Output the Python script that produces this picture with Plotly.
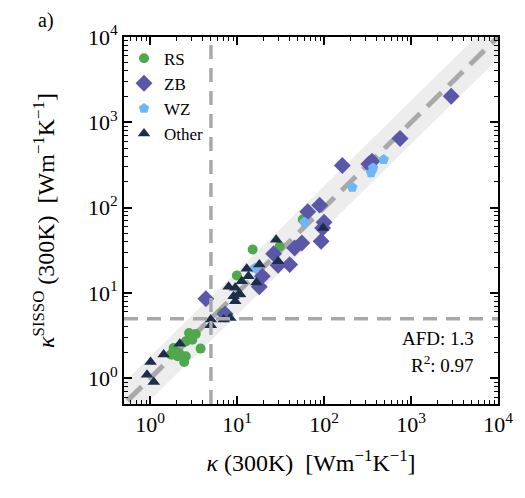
import plotly.graph_objects as go

# kappa(300K) reference vs. SISSO prediction, by structure type
rs_x = [2.80, 3.34, 3.05, 2.57, 3.80, 1.86, 2.15, 2.57, 2.46, 2.06, 1.73, 6.70, 56.9, 15.1, 30.9, 9.93]
rs_y = [3.40, 3.31, 2.84, 2.71, 2.23, 2.27, 1.98, 1.81, 1.55, 1.81, 1.90, 5.83, 72.6, 32.3, 35.3, 16.0]

zb_x = [2897, 748, 356, 327, 162, 88.9, 64.9, 100, 96.2, 92.5, 55.5, 45.8, 26.3, 29.6, 40.2, 19.5, 18.0, 4.37, 7.28]
zb_y = [2023, 646, 350, 325, 312, 107, 89.5, 67.4, 57.8, 40.4, 38.6, 33.7, 28.8, 21.1, 21.5, 15.7, 11.8, 8.55, 5.67]

wz_x = [484, 366, 347, 211, 59.5, 16.1]
wz_y = [366, 292, 257, 173, 67.4, 19.6]

other_x = [1.01, 0.92, 1.10, 1.43, 2.19, 4.98, 4.98, 7.0, 8.35, 9.10, 10.4, 9.51, 7.98, 11.3, 10.8,
           12.9, 13.5, 16.7, 18.0, 28.1, 29.6, 97.4, 9.51]
other_y = [1.55, 1.10, 0.905, 1.90, 2.55, 4.88, 4.18, 4.88, 5.09, 9.15, 9.58, 8.0, 11.8, 13.7, 9.66,
           19.2, 15.7, 13.3, 21.5, 42.0, 23.5, 57.8, 11.5]

threshold = 5
band_factor = 1.8
diag = [0.1, 1e5]
afd = 1.3
r2 = 0.97

font = "Liberation Serif"
grey = "#a9a9a9"

fig = go.Figure()

# shaded band around the identity line
fig.add_trace(go.Scatter(
    x=diag + diag[::-1],
    y=[v * band_factor for v in diag] + [v / band_factor for v in diag[::-1]],
    fill="toself", fillcolor="#ededed", line=dict(width=0),
    mode="lines", showlegend=False, hoverinfo="skip"))

fig.add_trace(go.Scatter(x=diag, y=diag, mode="lines", showlegend=False,
                         line=dict(color=grey, width=5, dash="20px,10px")))

fig.add_hline(y=threshold, line=dict(color=grey, width=3.5, dash="14px,9px"))
fig.add_vline(x=threshold, line=dict(color=grey, width=3.5, dash="14px,9px"))

fig.add_trace(go.Scatter(x=rs_x, y=rs_y, mode="markers", name="RS",
                         marker=dict(symbol="circle", size=10, color="#4fa84b")))
fig.add_trace(go.Scatter(x=zb_x, y=zb_y, mode="markers", name="ZB",
                         marker=dict(symbol="diamond", size=13, color="#5a57a9")))
fig.add_trace(go.Scatter(x=wz_x, y=wz_y, mode="markers", name="WZ",
                         marker=dict(symbol="pentagon", size=11, color="#6cb8f6")))
fig.add_trace(go.Scatter(x=other_x, y=other_y, mode="markers", name="Other",
                         marker=dict(symbol="triangle-up", size=11, color="#1c2e48")))

tickvals = [1, 10, 100, 1000, 10000]
ticktext = ["10<sup>%d</sup>" % i for i in range(5)]

axis = dict(type="log", range=[-0.301, 4], tickvals=tickvals, ticktext=ticktext,
            ticks="inside", ticklen=8, tickwidth=1.5, tickcolor="black",
            showline=True, linecolor="black", linewidth=2, mirror="ticks",
            showgrid=False, zeroline=False,
            minor=dict(ticks="inside", ticklen=4, tickwidth=1.2, tickcolor="black", dtick="D1"),
            tickfont=dict(family=font, size=22, color="black"))

fig.update_xaxes(**axis, title=dict(
    text="<i>κ</i> (300K)  [Wm<sup>−1</sup>K<sup>−1</sup>]",
    font=dict(family=font, size=24, color="black"), standoff=18))
fig.update_yaxes(**axis, title=dict(
    text="<i>κ</i><sup>SISSO</sup> (300K)  [Wm<sup>−1</sup>K<sup>−1</sup>]",
    font=dict(family=font, size=24, color="black"), standoff=26))

fig.add_annotation(x=0.94, y=0.145, xref="paper", yref="paper", xanchor="right",
                   text="AFD: %.1f" % afd, showarrow=False,
                   font=dict(family=font, size=19, color="black"))
fig.add_annotation(x=0.94, y=0.072, xref="paper", yref="paper", xanchor="right",
                   text="R<sup>2</sup>: %.2f" % r2, showarrow=False,
                   font=dict(family=font, size=19, color="black"))
fig.add_annotation(x=-0.235, y=1.046, xref="paper", yref="paper", xanchor="left",
                   yanchor="middle", text="a)", showarrow=False,
                   font=dict(family=font, size=20, color="black"))

fig.update_layout(
    width=525, height=498,
    margin=dict(l=124, r=23, t=37, b=94),
    font=dict(family=font, color="black"),
    plot_bgcolor="white", paper_bgcolor="white",
    legend=dict(x=0.0, y=0.99, xanchor="left", yanchor="top",
                bgcolor="rgba(0,0,0,0)", font=dict(family=font, size=17, color="black"),
                itemwidth=30, tracegroupgap=0),
)

fig.write_html("out.html", config={"displayModeBar": False},
               post_script="document.body.style.margin='0';")
